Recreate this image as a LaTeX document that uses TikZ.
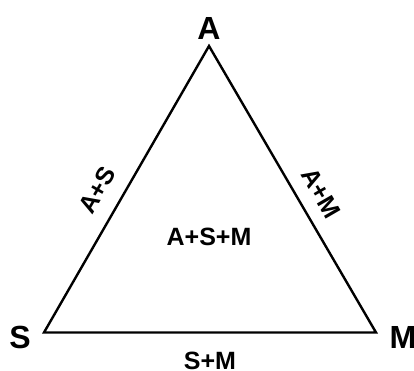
\documentclass[tikz,border=0pt]{standalone}
\usepackage{fontspec}
\setmainfont{Liberation Sans}
\begin{document}
\begin{tikzpicture}[x=1pt,y=1pt,
  vlabel/.style={font=\bfseries\fontsize{32}{32}\selectfont, inner sep=0pt},
  elabel/.style={font=\bfseries\fontsize{25}{25}\selectfont, inner sep=0pt},
  edge/.style={line width=2.4pt, line join=miter}]
\useasboundingbox (0,0) rectangle (414,371);
\coordinate (vA) at (209,325);
\coordinate (vS) at (44,38.5);
\coordinate (vM) at (376,38.5);
\draw[edge] (vA) -- (vS) -- (vM) -- cycle;
\node[vlabel] (lA) at (209,343) {A};
\node[vlabel] (lS) at (20,34) {S};
\node[vlabel] (lM) at (403,34) {M};
\node[elabel, rotate=60] (lAS) at (97,181) {A+S};
\node[elabel, rotate=-60] (lAM) at (321,178) {A+M};
\node[elabel] (lASM) at (209,134) {A+S+M};
\node[elabel] (lSM) at (210,10) {S+M};
\end{tikzpicture}
\end{document}
